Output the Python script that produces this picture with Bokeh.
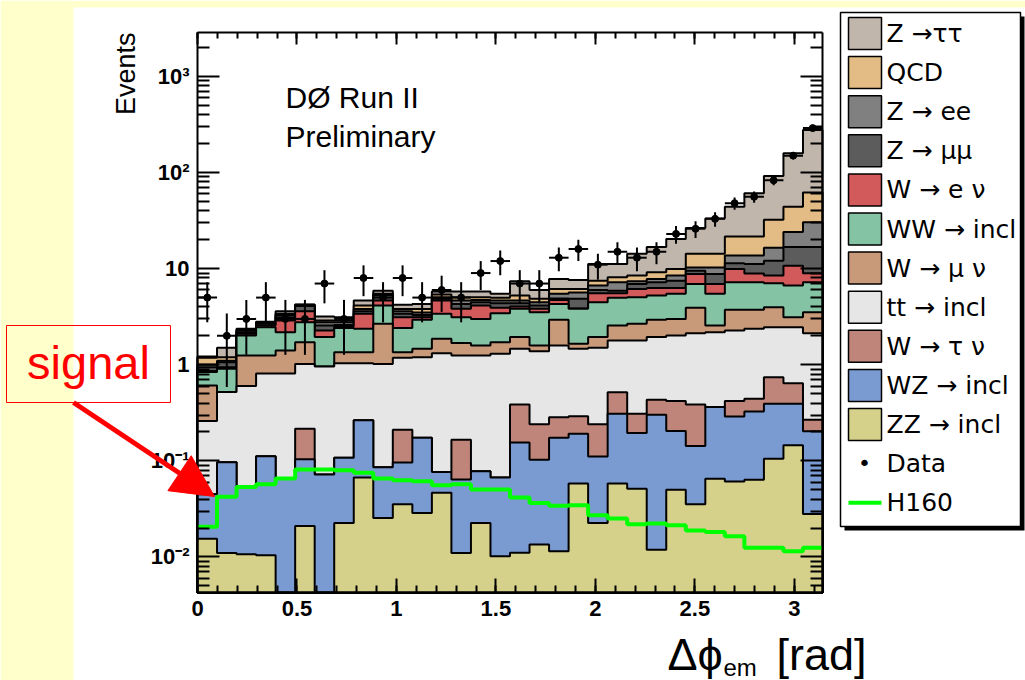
import numpy as np
from bokeh.plotting import figure
from bokeh.models import (Range1d, LogAxis, LinearAxis, FixedTicker, BoxAnnotation,
                          Label, Arrow, NormalHead)
from bokeh.embed import file_html
from bokeh.resources import INLINE

# ---------------- data ----------------
n_bins = 32
x_lo, x_hi = 0.0, np.pi
y_lo, y_hi = 0.00427, 2866.0

# stacked totals (cumulative, bottom -> top), as drawn by a ROOT THStack
stack_zz = [0.0155, 0.011, 0.0107, 0.0104, 0, 0.021, 0, 0.0226, 0.067, 0.0255, 0.0353,
            0.0287, 0.0467, 0.011, 0.0226, 0.0102, 0.0111, 0.0135, 0.0115, 0.058, 0.0226,
            0.058, 0.0514, 0.0119, 0.050, 0.0353, 0.065, 0.061, 0.0636, 0.105, 0.145, 0.028]
stack_wz = [0.045, 0.097, 0.054, 0.112, 0.066, 0.104, 0.072, 0.108, 0.264, 0.086, 0.096,
            0.174, 0.0765, 0.064, 0.078, 0.067, 0.155, 0.103, 0.174, 0.192, 0.111,
            0.31, 0.195, 0.302, 0.204, 0.143, 0.363, 0.29, 0.327, 0.393, 0.393, 0.203]
stack_wtaunu = [0.045, 0.097, 0.054, 0.112, 0.066, 0.216, 0.072, 0.108, 0.264, 0.086, 0.211,
                0.174, 0.0765, 0.166, 0.078, 0.067, 0.387, 0.24, 0.285, 0.292, 0.24,
                0.519, 0.31, 0.433, 0.419, 0.387, 0.363, 0.419, 0.443, 0.743, 0.644, 0.268]
stack_tt = [0.26, 0.52, 0.60, 0.81, 0.81, 1.02, 0.96, 1.04, 1.04, 1.02, 1.18,
            1.2, 1.32, 1.25, 1.25, 1.30, 1.47, 1.38, 1.59, 1.47, 1.50,
            1.79, 1.79, 1.94, 2.02, 2.13, 2.18, 2.27, 2.37, 2.46, 2.46, 2.13]
stack_wmunu = [0.61, 0.52, 1.25, 1.25, 1.41, 1.72, 0.96, 1.35, 1.35, 2.67, 1.35,
               1.47, 1.86, 1.68, 1.59, 1.72, 1.94, 1.59, 2.94, 1.65, 1.94,
               2.56, 2.67, 2.94, 3.0, 3.91, 2.56, 3.73, 3.73, 3.97, 3.12, 3.52]
stack_ww = [0.84, 0.91, 2.02, 2.46, 2.18, 2.77, 1.94, 2.42, 2.37, 4.14, 2.42,
            2.94, 3.39, 3.12, 3.0, 3.44, 3.82, 3.52, 4.3, 3.82, 4.47,
            4.97, 5.05, 5.25, 5.47, 6.93, 5.47, 7.2, 7.2, 7.05, 6.68, 7.2]
stack_wenu = [0.86, 0.94, 2.1, 2.56, 2.89, 3.6, 2.27, 2.5, 3.39, 4.66, 3.12,
              3.12, 4.66, 3.82, 4.14, 3.91, 4.04, 3.82, 4.73, 3.85, 5.55,
              5.55, 6.15, 6.3, 6.3, 8.8, 6.93, 9.9, 8.9, 8.5, 10.7, 8.96]
stack_zmumu = [0.94, 1.06, 2.18, 2.67, 3.12, 4.1, 2.56, 2.6, 3.6, 5.3, 3.39,
               3.3, 4.85, 4.3, 4.47, 4.37, 4.37, 4.14, 4.9, 4.85, 6.0,
               5.9, 6.93, 7.2, 7.5, 9.5, 8.8, 11.4, 11.2, 12.1, 16.8, 16.8]
stack_zee = [1.0, 1.1, 2.27, 2.74, 3.3, 4.15, 2.77, 2.77, 3.8, 5.4, 3.6,
             3.5, 5.05, 4.66, 4.73, 4.66, 4.66, 4.47, 5.47, 5.65, 6.68,
             7.2, 7.4, 7.8, 8.5, 10.3, 10.3, 13.7, 13.7, 16.5, 24.0, 30.4]
stack_qcd = [1.18, 1.2, 2.32, 2.77, 3.39, 4.2, 2.89, 2.89, 4.14, 5.47, 3.8,
             3.8, 5.38, 5.05, 5.05, 4.97, 5.25, 4.85, 6.15, 6.15, 7.5,
             8.14, 8.5, 9.2, 9.9, 14.3, 14.3, 21.6, 21.6, 32.2, 44.2, 62.0]
stack_ztautau = [1.22, 1.5, 2.37, 2.8, 3.6, 4.23, 3.18, 3.12, 4.66, 5.9, 4.2,
                 4.3, 5.8, 5.8, 5.8, 5.47, 7.4, 6.0, 7.8, 7.6, 11.2,
                 11.2, 14.3, 16.8, 20.4, 26.5, 33.2, 44.2, 61.0, 92.0, 159.0, 277.0]

data_counts = [5, 2, 3, 5, 3, 3, 7, 3, 8, 5, 8, 5, 6, 5, 9, 12, 7, 7, 13, 16, 11,
               15, 13, 15, 23, 26, 33, 48, 56, 83, 150, 290]
h160 = [0.0206, 0.0423, 0.0535, 0.057, 0.0654, 0.0811, 0.0811, 0.0798, 0.0751, 0.0654, 0.0627,
        0.0613, 0.0557, 0.057, 0.0503, 0.0503, 0.0415, 0.0365, 0.0342, 0.0345, 0.0272,
        0.0251, 0.0219, 0.0223, 0.0214, 0.0189, 0.0182, 0.0164, 0.0125, 0.0125, 0.0115, 0.0125]

legend_labels = ["Z \u2192\u03c4\u03c4", "QCD", "Z \u2192 ee", "Z \u2192 \u03bc\u03bc",
                 "W \u2192 e \u03bd", "WW \u2192 incl", "W \u2192 \u03bc \u03bd", "tt \u2192 incl",
                 "W \u2192 \u03c4 \u03bd", "WZ \u2192 incl", "ZZ \u2192 incl"]
y_major = [0.01, 0.1, 1, 10, 100, 1000]
y_major_text = ["10\u207b\u00b2", "10\u207b\u00b9", "1", "10", "10\u00b2", "10\u00b3"]
x_major = [0, 0.5, 1, 1.5, 2, 2.5, 3]
x_major_text = ["0", "0.5", "1", "1.5", "2", "2.5", "3"]

# ---------------- styles / layout ----------------
colors = ["#C1B6AC", "#E2BB85", "#808080", "#5C5C5C", "#D25A5A", "#84C4A4",
          "#C99A7A", "#E6E6E6", "#C0857A", "#7A9BD2", "#D5D18A"]
stacks_top_first = [stack_ztautau, stack_qcd, stack_zee, stack_zmumu, stack_wenu, stack_ww,
                    stack_wmunu, stack_tt, stack_wtaunu, stack_wz, stack_zz]
YELLOW = "#FFFFCC"
FONT = "Liberation Sans"
LEG_FONT = "DejaVu Sans"

W, H = 1025, 680
FL, FR, FT, FB = 197, 822, 32, 592          # plot box inside the canvas (pixels)
LLO, LHI = np.log10(y_lo), np.log10(y_hi)


def cx(px):
    return x_lo + (px - FL) / (FR - FL) * (x_hi - x_lo)


def cy(py):
    return 10 ** (LHI - (py - FT) / (FB - FT) * (LHI - LLO))


# the frame spans the whole canvas; the histogram box sits inside it
p = figure(width=W, height=H, x_range=Range1d(cx(0), cx(W)), y_range=Range1d(cy(H), cy(0)),
           y_axis_type="log", x_axis_location=None, y_axis_location=None,
           output_backend="svg", toolbar_location=None,
           min_border_left=0, min_border_right=0, min_border_top=0, min_border_bottom=0,
           background_fill_color="white", border_fill_color="white", outline_line_color=None)
p.grid.visible = False

edges = np.linspace(x_lo, x_hi, n_bins + 1)
centers = 0.5 * (edges[:-1] + edges[1:])


def step_xy(vals):
    xs = np.repeat(edges, 2)[1:-1]
    ys = np.repeat(np.clip(np.asarray(vals, dtype=float), y_lo, y_hi), 2)
    return xs, ys


for vals, col in zip(stacks_top_first, colors):
    xs, ys = step_xy(vals)
    px = np.concatenate([[edges[0]], xs, [edges[-1]]])
    py = np.concatenate([[y_lo], ys, [y_lo]])
    p.patch(px, py, fill_color=col, line_color="black", line_width=2)

# signal
hx, hy = step_xy(h160)
p.line(hx, hy, line_color="#00FF00", line_width=4)

# data
d = np.asarray(data_counts, dtype=float)
err = np.sqrt(d)
p.segment(centers, d - err, centers, d + err, line_color="black", line_width=2)
p.segment(edges[:-1], d, edges[1:], d, line_color="black", line_width=2)
p.scatter(centers, d, size=7, color="black")

# ---------------- axes (drawn at the box edges) ----------------
y_minor = [k * 10.0 ** e for e in range(-3, 4) for k in range(2, 10)]
y_minor = [v for v in y_minor if y_lo <= v <= y_hi]
x_minor = [round(0.1 * i, 1) for i in range(32)]

lax = LogAxis(ticker=FixedTicker(ticks=y_major, minor_ticks=y_minor),
              fixed_location=x_lo, bounds=(y_lo, y_hi))
lax.major_label_overrides = dict(zip(y_major, y_major_text))
rax = LogAxis(ticker=FixedTicker(ticks=y_major, minor_ticks=y_minor),
              fixed_location=x_hi, bounds=(y_lo, y_hi))
bax = LinearAxis(ticker=FixedTicker(ticks=x_major, minor_ticks=x_minor),
                 fixed_location=y_lo, bounds=(x_lo, x_hi))
bax.major_label_overrides = dict(zip(x_major, x_major_text))
tax = LinearAxis(ticker=FixedTicker(ticks=x_major, minor_ticks=x_minor),
                 fixed_location=y_hi, bounds=(x_lo, x_hi))
p.add_layout(lax, "left")
p.add_layout(rax, "right")
p.add_layout(bax, "below")
p.add_layout(tax, "above")

for ax, maj, mnr in ((lax, 22, 12), (rax, 22, 12), (bax, 14, 7), (tax, 12, 6)):
    ax.axis_line_width = 2
    ax.axis_line_color = "black"
    ax.major_tick_line_width = 2
    ax.minor_tick_line_width = 2
    ax.major_tick_in = maj
    ax.major_tick_out = 0
    ax.minor_tick_in = mnr
    ax.minor_tick_out = 0
    ax.major_label_text_font = FONT
    ax.major_label_text_font_style = "bold"
    ax.major_label_text_font_size = "22px"
    ax.major_label_text_color = "black"
    ax.major_label_standoff = 8
for ax in (rax, tax):
    ax.major_label_text_color = None


# ---------------- annotations ----------------
def box(l, t, r, b, **kw):
    opts = dict(fill_alpha=1.0, line_alpha=1.0, fill_color=None, line_color=None)
    opts.update(kw)
    ba = BoxAnnotation(left=cx(l), right=cx(r), top=cy(t), bottom=cy(b), **opts)
    p.add_layout(ba)
    return ba


def text(px, py, s, size, **kw):
    opts = dict(text_font=FONT, text_color="black", text_baseline="middle", text_align="left")
    opts.update(kw)
    lb = Label(x=cx(px), y=cy(py), text=s, text_font_size=size, **opts)
    p.add_layout(lb)
    return lb


box(0, 0, 73, H, fill_color=YELLOW)
box(73, 0, W, 7, fill_color=YELLOW)

# legend
box(844, 16, 1024, 530, fill_color="black")
box(840, 12, 1020, 526, fill_color="white", line_color="black", line_width=1.5)
row0, dy = 33, 39.1
for i, (lab, col) in enumerate(zip(legend_labels, colors)):
    yc = row0 + i * dy
    box(848, yc - 16, 881, yc + 16, fill_color=col, line_color="black", line_width=1.5)
    text(886, yc, lab, "25px", text_font=LEG_FONT)
yc = row0 + 11 * dy
text(864, yc, "\u2022", "22px", text_align="center", text_font=LEG_FONT)
text(886, yc, "Data", "25px", text_font=LEG_FONT)
yc = row0 + 12 * dy
box(848, yc - 2, 881, yc + 2, fill_color="#00FF00")
text(886, yc, "H160", "25px", text_font=LEG_FONT)

# texts
text(125, 32, "Events", "27px", angle=np.pi / 2, text_align="right")
text(285, 97, "D\u00d8 Run II", "30px")
text(285, 136, "Preliminary", "30px")
text(667, 679, "\u0394\u03d5", "45px", text_baseline="bottom")
text(723, 680, "em", "24px", text_baseline="bottom")
text(776, 679, "[rad]", "45px", text_baseline="bottom")

# signal call-out
box(6, 325, 170, 402, line_color="red", line_width=1)
text(88, 362, "signal", "47px", text_color="red", text_align="center")
p.add_layout(Arrow(x_start=cx(73), y_start=cy(402), x_end=cx(214), y_end=cy(496),
                   line_color="red", line_width=5,
                   end=NormalHead(size=42, fill_color="red", line_color="red")))

open("out.html", "w").write(file_html(p, INLINE))
